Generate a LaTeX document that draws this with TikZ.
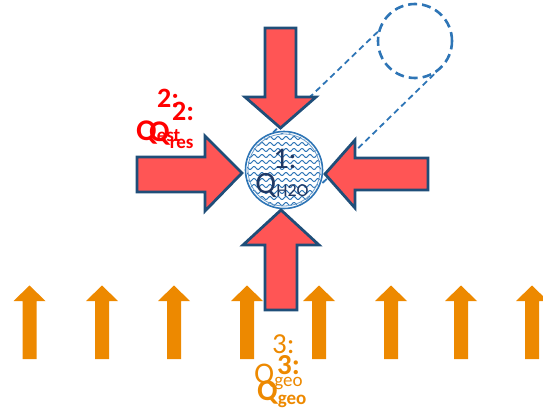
\documentclass[tikz,border=0pt]{standalone}
\usepackage{fontspec}
\setmainfont{Carlito}
\definecolor{arrred}{RGB}{255,85,85}
\definecolor{navy}{RGB}{31,78,121}
\definecolor{dblue}{RGB}{46,117,182}
\definecolor{txtnavy}{RGB}{31,56,100}
\definecolor{qred}{RGB}{255,0,0}
\definecolor{geoor}{RGB}{237,137,0}
\tikzset{
  bigarrow/.style={fill=arrred,draw=navy,line width=2.8pt,line join=miter},
  heatarrow/.style={fill=geoor,draw=none},
  dashline/.style={draw=dblue,line width=1.8pt,dash pattern=on 6pt off 4pt},
  lbl/.style={inner sep=0pt,anchor=base west}
}
\newcommand{\fs}[1]{\fontsize{#1}{#1}\selectfont}
\begin{document}
\begin{tikzpicture}[x=1pt,y=-1pt]
\useasboundingbox (0,0) rectangle (543,412);
% zoom circle and water circle
\node[circle,minimum size=74pt,inner sep=0pt,draw=dblue,line width=2.6pt,dash pattern=on 9pt off 5pt] (zoom) at (415,41) {};
\node[circle,minimum size=78pt,inner sep=0pt] (water) at (284,170) {};
\draw[dashline] (zoom.166) -- (water.106);
\draw[dashline] (zoom.-60) -- (water.-23);
% wavy fill
\fill[white] (284,170) circle (38pt);
\begin{scope}
\clip (284,170) circle (37pt);
\foreach \yy in {132,138,...,212}{
  \draw[dblue,line width=1pt] plot[domain=244:326,samples=90,smooth] (\x,{\yy+1.5*sin(\x*45)});
}
\end{scope}
\draw[dblue,line width=1.6pt] (284,170) circle (38.5pt);
\draw[dblue!70,line width=0.8pt] (284,170) circle (36pt);
% red arrows
\draw[bigarrow] (265,28) -- (296,28) -- (296,97) -- (316,97) -- (280.5,128) -- (245,97) -- (265,97) -- cycle;
\draw[bigarrow] (265,310) -- (297,310) -- (297,245) -- (319,245) -- (281,210) -- (243,245) -- (265,245) -- cycle;
\draw[bigarrow] (137,157) -- (205,157) -- (205,136) -- (242,173) -- (205,211) -- (205,192) -- (137,192) -- cycle;
\draw[bigarrow] (428,158) -- (355,158) -- (355,140) -- (325,174) -- (355,208) -- (355,190) -- (428,190) -- cycle;
% water label
\node[txtnavy,font=\fs{30},anchor=base] (w1) at (285,168) {1:};
\node[txtnavy,font=\fs{31},anchor=base] (w2) at (282,193) {Q\raisebox{-3pt}{\fs{18}H2O}};
% red labels
\node[lbl,qred,font=\bfseries\fs{28}] (a1) at (157,107) {2:};
\node[lbl,qred,font=\bfseries\fs{30}] (a2) at (136,140) {Q\raisebox{-1pt}{\fs{19}est}};
\node[lbl,qred,font=\bfseries\fs{28}] (b1) at (172,120) {2:};
\node[lbl,qred,font=\bfseries\fs{30}] (b2) at (149,141) {Q\raisebox{-7pt}{\fs{19}res}};
% orange arrows
\foreach \cx [count=\i] in {29.5,102,174,247,319,391,461,532}{
  \fill[heatarrow] (\cx-7,359) -- (\cx+7,359) -- (\cx+7,301) -- (\cx+16,301) -- (\cx,285.5) -- (\cx-16,301) -- (\cx-7,301) -- cycle;
}
% orange labels
\node[lbl,geoor,font=\fs{29}] (c1) at (272,353) {3:};
\node[lbl,geoor,font=\fs{30}] (c2) at (254,383) {Q\raisebox{-3pt}{\fs{19}geo}};
\node[lbl,geoor,font=\bfseries\fs{29}] (d1) at (277,374) {3:};
\node[lbl,geoor,font=\bfseries\fs{30}] (d2) at (257,400) {Q\raisebox{-4pt}{\fs{19}geo}};
\end{tikzpicture}
\end{document}
